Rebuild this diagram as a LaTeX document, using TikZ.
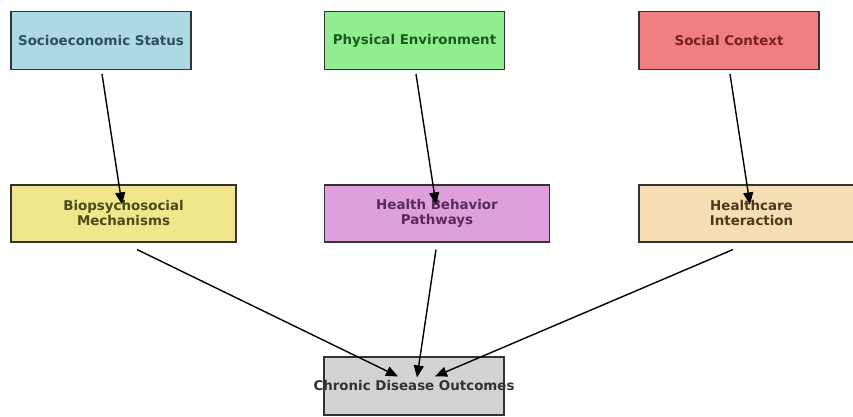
\documentclass[tikz,border=0pt]{standalone}
\usepackage{fontspec}
\setmainfont{DejaVu Sans}
\usetikzlibrary{arrows.meta,calc}
\definecolor{cSocio}{HTML}{ADD8E6}
\definecolor{cPhys}{HTML}{90EE90}
\definecolor{cSocial}{HTML}{F08080}
\definecolor{cBio}{HTML}{F0E68C}
\definecolor{cHB}{HTML}{DDA0DD}
\definecolor{cHC}{HTML}{F5DEB3}
\definecolor{cChron}{HTML}{D3D3D3}
\definecolor{tSocio}{HTML}{2F4F5A}
\definecolor{tPhys}{HTML}{1E5A1E}
\definecolor{tSocial}{HTML}{7A1F1F}
\definecolor{tBio}{HTML}{4A4A1A}
\definecolor{tHB}{HTML}{5A2A5A}
\definecolor{tHC}{HTML}{4A3A1F}
\definecolor{tChron}{HTML}{333333}
\definecolor{edge}{HTML}{333333}
\tikzset{
  box/.style={draw=edge, line width=1.1pt, rectangle, inner sep=0pt,
    align=center, font=\bfseries\fontsize{13.4}{15}\selectfont},
  topbox/.style={box, minimum width=180pt, minimum height=58pt},
  midbox/.style={box, minimum width=225pt, minimum height=57pt},
  arr/.style={line width=1.4pt, -{Triangle[length=12pt,width=10pt]}}
}
\begin{document}
\begin{tikzpicture}[x=1pt,y=1pt]
\useasboundingbox[fill=white] (0,0) rectangle (853,417);
\node[topbox, fill=cSocio, text=tSocio] (socio) at (101,376.5) {Socioeconomic Status};
\node[topbox, fill=cPhys, text=tPhys] (phys) at (414.5,376.5) {Physical Environment};
\node[topbox, fill=cSocial, text=tSocial] (social) at (729,376.5) {Social Context};
\node[midbox, fill=cBio, text=tBio] (bio) at (123.5,203.5) {Biopsychosocial\\Mechanisms};
\node[midbox, fill=cHB, text=tHB] (hb) at (437,203.5) {Health Behavior\\Pathways};
\node[midbox, fill=cHC, text=tHC] (hc) at (751.5,203.5) {Healthcare\\Interaction};
\node[topbox, fill=cChron, text=tChron] (chron) at (414,31) {\makebox[0pt]{Chronic Disease Outcomes}};
\draw[arr] ($(socio.south)+(1,-4)$) -- ($(bio.north)+(-1.5,-20)$);
\draw[arr] ($(phys.south)+(1.5,-4)$) -- ($(hb.north)+(-1,-20)$);
\draw[arr] ($(social.south)+(1,-4)$) -- ($(hc.north)+(-1.5,-20)$);
\draw[arr] ($(bio.south)+(13.5,-7)$) -- ($(chron.north)+(-16,-20)$);
\draw[arr] ($(hb.south)+(-1,-7)$) -- ($(chron.north)+(3,-21)$);
\draw[arr] ($(hc.south)+(-18.5,-7)$) -- ($(chron.north)+(21,-20)$);
\end{tikzpicture}
\end{document}
